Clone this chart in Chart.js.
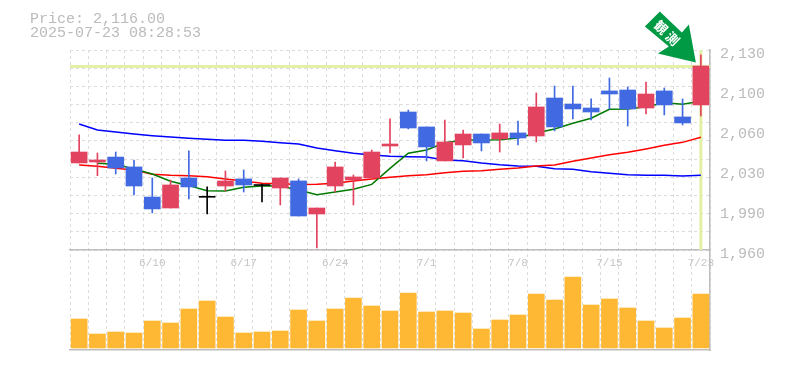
<!DOCTYPE html>
<html>
<head>
<meta charset="utf-8">
<style>html,body{margin:0;padding:0;background:#fff}canvas{display:block}</style>
<script src="https://cdn.jsdelivr.net/npm/chart.js@4"></script>
</head>
<body>
<canvas id="c" width="785" height="370"></canvas>
<script>
const categories = ['6/4','6/5','6/6','6/9','6/10','6/11','6/12','6/13','6/16','6/17','6/18','6/19','6/20','6/23','6/24','6/25','6/26','6/27','6/30','7/1','7/2','7/3','7/4','7/7','7/8','7/9','7/10','7/11','7/14','7/15','7/16','7/17','7/18','7/22','7/23'];
const labelledDates = ['6/10','6/17','6/24','7/1','7/8','7/15','7/23'];
const open  = [2034,2034.8,2039,2030.6,2005,1995.7,2021.2,2004.8,2014.4,2020.4,2014.8,2012.7,2018.7,1990.6,2014.4,2019.5,2021.2,2048.4,2077.3,2064.6,2035.7,2049.3,2058.6,2054.4,2059.5,2056.9,2089.2,2084.1,2080.7,2095.2,2096,2080.7,2095.2,2073.1,2083.3];
const close = [2043.3,2036.5,2029.7,2014.4,1994.9,2015.3,2013.6,2004.8,2018.7,2015.3,2014.8,2021.2,1988.9,1995.7,2030.6,2022.1,2043.3,2050.1,2063.7,2047.6,2051.8,2058.6,2051,2059.5,2055.2,2081.6,2064.6,2079.9,2077.3,2092.6,2079.9,2092.6,2083.3,2068,2116.4];
const high  = [2057.8,2042.5,2043.3,2036.5,2021.2,2019.5,2044.2,2013.6,2027.2,2028,2016.1,2021.2,2020.4,1995.7,2034.8,2023.8,2045,2071.4,2079,2064.6,2070.5,2062,2058.6,2067.1,2069.6,2093.5,2099.4,2099.4,2088.4,2106.2,2098.6,2102.8,2097.7,2088.4,2125.8];
const low   = [2034,2023.2,2024.6,2006.8,1991.5,1995.7,2003.4,1990.6,2010.2,2009.3,2000.8,1998.3,1988.9,1961.7,2009.3,1998.3,2021.2,2042.5,2062.9,2035.7,2035.7,2038.2,2044.2,2043.3,2049.3,2051.8,2061.2,2071.4,2070.5,2079.9,2065.4,2075.6,2074.8,2066.3,2073.9];
const maBlue  = [2067.1,2062,2060.3,2058.6,2057.2,2056.1,2055,2054.1,2053.2,2053.2,2052.4,2051.2,2050.1,2046.7,2044.4,2042.2,2040.8,2039.6,2039.3,2039,2036.5,2035.9,2034,2032.5,2031.4,2031.1,2029.1,2028.6,2026.6,2025.2,2024,2023.5,2023.5,2022.9,2023.5];
const maRed   = [2032.3,2031.2,2029.4,2028,2024.4,2023.5,2023.2,2022.3,2020.4,2018.7,2016.7,2016.4,2015.7,2015.8,2016.7,2018.7,2020.4,2021.8,2023.2,2024,2025.7,2026.9,2027.4,2028.6,2029.7,2031.4,2032.3,2035.4,2038.2,2041,2043,2045.9,2049,2051.5,2055.8];
const maGreen = [null,2033.7,2032.8,2028.9,2024.6,2018.4,2014.7,2010.4,2010.2,2013.3,2014.4,2014.4,2011,2007,2009.3,2011.6,2015.8,2029.4,2042.2,2045,2051.2,2053.5,2053.5,2053.8,2055.2,2059.4,2062.9,2067.7,2072,2079.6,2079.9,2081.8,2085.2,2083.8,2086.4];
const volume = [29,14,16,15,27,25,39,47,31,15,16,17,38,27,39,50,42,37,55,36,37,35,19,28,33,54,48,71,43,49,40,27,20,30,54];
const priceTickValues = [2130,2096,2062,2028,1994,1960];
const priceTickLabels = ['2,130','2,100','2,060','2,030','1,990','1,960'];
const gridStepCount = 11;
const priceMin = 1960, priceMax = 2130;
const currentPrice = 2116;
const lastIndex = 34;
const titleLines = ['Price: 2,116.00','2025-07-23 08:28:53'];
const arrowChars = ['観','測'];

const UP='#e2435f', DOWN='#4169e1', FLAT='#000000', GREY='#bdbdbd', LIME='#e3f0a6', GRID='#dddddd';
const MONO='"Liberation Mono", monospace';
const candleColor = open.map((o,i)=> close[i]>o ? UP : close[i]<o ? DOWN : FLAT);
const gridValues = Array.from({length:gridStepCount+1},(_,k)=>priceMax-(priceMax-priceMin)*k/gridStepCount);

const overlay = {
  id:'overlay',
  beforeDatasetsDraw(chart){
    const {ctx,chartArea:a,scales:{x,yPrice}} = chart;
    const py = yPrice.getPixelForValue(currentPrice), px = x.getPixelForValue(lastIndex);
    ctx.save();
    ctx.fillStyle = LIME;
    ctx.fillRect(a.left,py-1.5,a.right-a.left,3);
    ctx.fillRect(px-1.5,yPrice.top,3,yPrice.bottom-yPrice.top);
    ctx.restore();
  },
  afterDraw(chart){
    const {ctx,scales:{x,yPrice}} = chart;
    ctx.save();
    ctx.fillStyle='#bbbbbb';
    ctx.font='15px '+MONO;
    ctx.textBaseline='alphabetic';
    ctx.fillText(titleLines[0],30,23);
    ctx.fillText(titleLines[1],30,37);
    const tx = x.getPixelForValue(lastIndex)-5, ty = yPrice.getPixelForValue(currentPrice)-4;
    const pts=[[-36,-51],[-14,-30],[-7,-38],[0,0],[-38,-9],[-27,-16],[-51,-36]];
    ctx.fillStyle='#009a44';
    ctx.beginPath();
    pts.forEach((p,i)=> i?ctx.lineTo(tx+p[0],ty+p[1]):ctx.moveTo(tx+p[0],ty+p[1]));
    ctx.closePath();ctx.fill();
    ctx.translate(tx-29,ty-29.5);
    ctx.rotate(Math.PI/4);
    ctx.fillStyle='#ffffff';
    ctx.font='bold 13px "Noto Sans CJK JP"';
    ctx.textAlign='center';ctx.textBaseline='middle';
    ctx.fillText(arrowChars[0],-8,0);
    ctx.fillText(arrowChars[1],8,0);
    ctx.restore();
  }
};

new Chart(document.getElementById('c'),{
  data:{
    labels:categories,
    datasets:[
      {type:'line',data:maBlue,yAxisID:'yPrice',borderColor:'#0000ff',borderWidth:1.5,pointRadius:0,tension:0,order:5},
      {type:'line',data:maRed,yAxisID:'yPrice',borderColor:'#ff0000',borderWidth:1.5,pointRadius:0,tension:0,order:4},
      {type:'line',data:maGreen,yAxisID:'yPrice',borderColor:'#007a00',borderWidth:1.5,pointRadius:0,tension:0,order:3},
      {type:'bar',data:high.map((h,i)=>[low[i],h]),yAxisID:'yPrice',backgroundColor:candleColor,barThickness:1,grouped:false,order:2},
      {type:'bar',data:open.map((o,i)=>[o,close[i]]),yAxisID:'yPrice',backgroundColor:candleColor,barThickness:16,minBarLength:1,grouped:false,order:1},
      {type:'bar',data:volume,yAxisID:'yVol',backgroundColor:'#ffb833',barThickness:16,grouped:false,order:6}
    ]
  },
  options:{
    responsive:false,animation:false,
    layout:{padding:{left:70,top:50,right:0,bottom:20}},
    plugins:{legend:{display:false},tooltip:{enabled:false},title:{display:false}},
    scales:{
      x:{type:'category',position:'bottom',offset:true,
        grid:{offset:true,color:GRID,drawTicks:false,tickLength:0},
        border:{color:GREY,width:1.5,dash:[3,3]},
        ticks:{display:false}},
      xDates:{type:'category',axis:'x',position:{yVol:98},offset:true,labels:categories,
        grid:{display:false,drawTicks:false},
        border:{color:GREY,width:1.5},
        ticks:{autoSkip:false,maxRotation:0,padding:6,color:'#c4c4c4',font:{family:MONO,size:11},
          callback(v){const l=this.getLabelForValue(v);return labelledDates.includes(l)?l:'';}}},
      yPrice:{type:'linear',position:'right',stack:'main',stackWeight:2,min:priceMin,max:priceMax,
        afterBuildTicks(s){s.ticks=[...new Set([...priceTickValues,...gridValues])].map(value=>({value}));},
        afterFit(s){s.width=75;},
        grid:{color:c=>gridValues.some(g=>Math.abs(g-c.tick.value)<1e-6)?GRID:'rgba(0,0,0,0)',drawTicks:false},
        border:{color:GREY,width:1.5,dash:[3,3]},
        ticks:{autoSkip:false,padding:10,labelOffset:4,color:'#bbbbbb',font:{family:MONO,size:15},
          callback(v){const i=priceTickValues.indexOf(v);return i<0?'':priceTickLabels[i];}}},
      yVol:{type:'linear',position:'right',stack:'main',stackWeight:1,min:-2,max:98,
        afterFit(s){s.width=75;},
        grid:{display:false,drawTicks:false},
        border:{color:GREY,width:1.5},
        ticks:{display:false}}
    }
  },
  plugins:[overlay]
});
</script>
</body>
</html>
